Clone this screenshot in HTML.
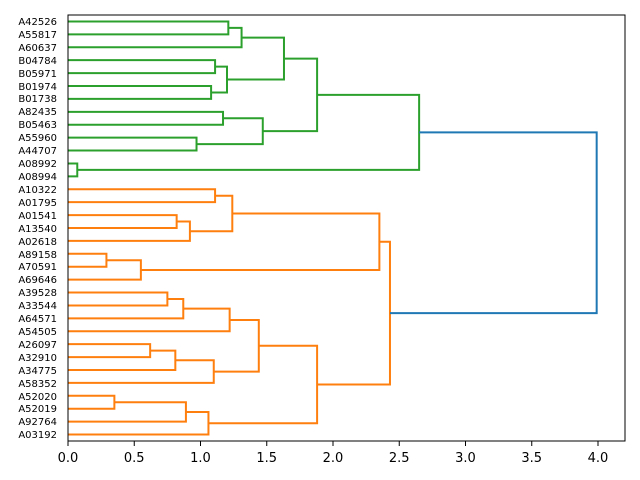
<!DOCTYPE html>
<html><head><style>body{margin:0;background:#fff}svg{display:block}text{font-family:"DejaVu Sans","Liberation Sans",sans-serif}</style></head>
<body>
<svg width="640" height="480" viewBox="0 0 640 480" xmlns="http://www.w3.org/2000/svg">
<rect width="640" height="480" fill="#fff"/>
<g transform="translate(68,21.45) scale(132.5,12.909)" fill="none" stroke-width="2">
<path vector-effect="non-scaling-stroke" stroke="#2ca02c" d="M0 0H1.21V1H0 M0 2H1.31V0.5H1.21 M0 3H1.11V4H0 M0 5H1.08V6H0 M1.11 3.5H1.20V5.5H1.08 M1.31 1.25H1.63V4.5H1.20 M0 7H1.17V8H0 M0 9H0.97V10H0 M1.17 7.5H1.47V9.5H0.97 M1.63 2.875H1.88V8.5H1.47 M0 11H0.07V12H0 M1.88 5.6875H2.65V11.5H0.07"/>
<path vector-effect="non-scaling-stroke" stroke="#ff7f0e" d="M0 13H1.11V14H0 M0 15H0.82V16H0 M0.82 15.5H0.92V17H0 M1.11 13.5H1.24V16.25H0.92 M0 18H0.29V19H0 M0.29 18.5H0.55V20H0 M1.24 14.875H2.35V19.25H0.55 M0 21H0.75V22H0 M0.75 21.5H0.87V23H0 M0.87 22.25H1.22V24H0 M0 25H0.62V26H0 M0.62 25.5H0.81V27H0 M0.81 26.25H1.10V28H0 M1.22 23.125H1.44V27.125H1.10 M0 29H0.35V30H0 M0.35 29.5H0.89V31H0 M0.89 30.25H1.06V32H0 M1.44 25.125H1.88V31.125H1.06 M2.35 17.0625H2.43V28.125H1.88"/>
<path vector-effect="non-scaling-stroke" stroke="#1f77b4" d="M2.65 8.59H3.99V22.59H2.43"/>
</g>
<rect x="68" y="15" width="557" height="426" fill="none" stroke="#000" stroke-width="1"/>
<g stroke="#000" stroke-width="1">
<path d="M68 441v5M134.25 441v5M200.5 441v5M266.75 441v5M333 441v5M399.25 441v5M465.5 441v5M531.75 441v5M598 441v5"/>
</g>
<g font-size="13" text-anchor="middle" fill="#000">
<text x="68" y="462">0.0</text><text x="134.25" y="462">0.5</text><text x="200.5" y="462">1.0</text><text x="266.75" y="462">1.5</text><text x="333" y="462">2.0</text><text x="399.25" y="462">2.5</text><text x="465.5" y="462">3.0</text><text x="531.75" y="462">3.5</text><text x="598" y="462">4.0</text>
</g>
<g font-size="10" text-anchor="end" fill="#000">
<text x="57" y="25">A42526</text><text x="57" y="38">A55817</text><text x="57" y="51">A60637</text><text x="57" y="64">B04784</text><text x="57" y="77">B05971</text><text x="57" y="90">B01974</text><text x="57" y="102">B01738</text><text x="57" y="115">A82435</text><text x="57" y="128">B05463</text><text x="57" y="141">A55960</text><text x="57" y="154">A44707</text><text x="57" y="167">A08992</text><text x="57" y="180">A08994</text><text x="57" y="193">A10322</text><text x="57" y="206">A01795</text><text x="57" y="219">A01541</text><text x="57" y="232">A13540</text><text x="57" y="245">A02618</text><text x="57" y="258">A89158</text><text x="57" y="270">A70591</text><text x="57" y="283">A69646</text><text x="57" y="296">A39528</text><text x="57" y="309">A33544</text><text x="57" y="322">A64571</text><text x="57" y="335">A54505</text><text x="57" y="348">A26097</text><text x="57" y="361">A32910</text><text x="57" y="374">A34775</text><text x="57" y="387">A58352</text><text x="57" y="400">A52020</text><text x="57" y="412">A52019</text><text x="57" y="425">A92764</text><text x="57" y="438">A03192</text>
</g>
</svg>
</body></html>
